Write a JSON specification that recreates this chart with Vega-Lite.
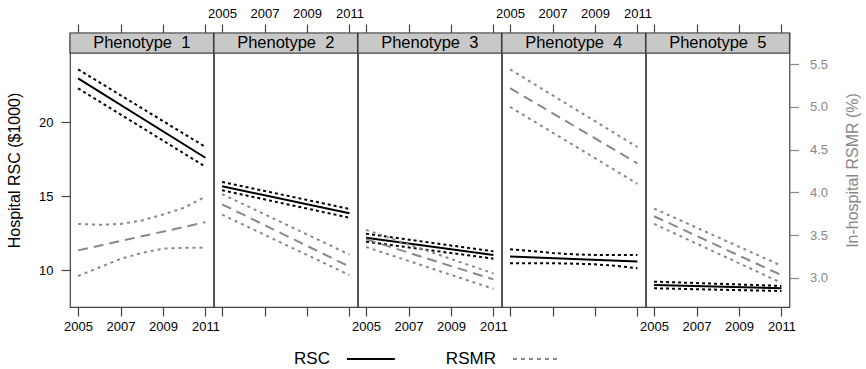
{
  "$schema": "https://vega.github.io/schema/vega-lite/v6.json",
  "padding": {"left": 5, "top": 6, "right": 0, "bottom": 0},
  "datasets": {
    "panels": [
      {"panel": 1, "label": "Phenotype\u00a0 1"},
      {"panel": 2, "label": "Phenotype\u00a0 2"},
      {"panel": 3, "label": "Phenotype\u00a0 3"},
      {"panel": 4, "label": "Phenotype\u00a0 4"},
      {"panel": 5, "label": "Phenotype\u00a0 5"}
    ],
    "legend": [{"label": "RSC"}, {"label": "RSMR"}],
    "lines": [
      {"panel": 1, "measure": "RSC", "bound": "estimate", "year": 2005, "value": 22.94},
      {"panel": 1, "measure": "RSC", "bound": "estimate", "year": 2011, "value": 17.59},
      {"panel": 1, "measure": "RSC", "bound": "upper", "year": 2005, "value": 23.55},
      {"panel": 1, "measure": "RSC", "bound": "upper", "year": 2011, "value": 18.32},
      {"panel": 1, "measure": "RSC", "bound": "lower", "year": 2005, "value": 22.27},
      {"panel": 1, "measure": "RSC", "bound": "lower", "year": 2011, "value": 16.99},
      {"panel": 1, "measure": "RSMR", "bound": "estimate", "year": 2005, "value": 3.32},
      {"panel": 1, "measure": "RSMR", "bound": "estimate", "year": 2011, "value": 3.65},
      {"panel": 1, "measure": "RSMR", "bound": "upper", "year": 2005, "value": 3.63},
      {"panel": 1, "measure": "RSMR", "bound": "upper", "year": 2006, "value": 3.62},
      {"panel": 1, "measure": "RSMR", "bound": "upper", "year": 2007, "value": 3.63},
      {"panel": 1, "measure": "RSMR", "bound": "upper", "year": 2008, "value": 3.67},
      {"panel": 1, "measure": "RSMR", "bound": "upper", "year": 2009, "value": 3.74},
      {"panel": 1, "measure": "RSMR", "bound": "upper", "year": 2010, "value": 3.82},
      {"panel": 1, "measure": "RSMR", "bound": "upper", "year": 2011, "value": 3.95},
      {"panel": 1, "measure": "RSMR", "bound": "lower", "year": 2005, "value": 3.02},
      {"panel": 1, "measure": "RSMR", "bound": "lower", "year": 2006, "value": 3.12},
      {"panel": 1, "measure": "RSMR", "bound": "lower", "year": 2007, "value": 3.22},
      {"panel": 1, "measure": "RSMR", "bound": "lower", "year": 2008, "value": 3.29},
      {"panel": 1, "measure": "RSMR", "bound": "lower", "year": 2009, "value": 3.34},
      {"panel": 1, "measure": "RSMR", "bound": "lower", "year": 2010, "value": 3.35},
      {"panel": 1, "measure": "RSMR", "bound": "lower", "year": 2011, "value": 3.35},
      {"panel": 2, "measure": "RSC", "bound": "estimate", "year": 2005, "value": 15.67},
      {"panel": 2, "measure": "RSC", "bound": "estimate", "year": 2011, "value": 13.85},
      {"panel": 2, "measure": "RSC", "bound": "upper", "year": 2005, "value": 15.96},
      {"panel": 2, "measure": "RSC", "bound": "upper", "year": 2011, "value": 14.14},
      {"panel": 2, "measure": "RSC", "bound": "lower", "year": 2005, "value": 15.40},
      {"panel": 2, "measure": "RSC", "bound": "lower", "year": 2011, "value": 13.55},
      {"panel": 2, "measure": "RSMR", "bound": "estimate", "year": 2005, "value": 3.86},
      {"panel": 2, "measure": "RSMR", "bound": "estimate", "year": 2011, "value": 3.13},
      {"panel": 2, "measure": "RSMR", "bound": "upper", "year": 2005, "value": 3.98},
      {"panel": 2, "measure": "RSMR", "bound": "upper", "year": 2011, "value": 3.27},
      {"panel": 2, "measure": "RSMR", "bound": "lower", "year": 2005, "value": 3.74},
      {"panel": 2, "measure": "RSMR", "bound": "lower", "year": 2011, "value": 3.03},
      {"panel": 3, "measure": "RSC", "bound": "estimate", "year": 2005, "value": 12.20},
      {"panel": 3, "measure": "RSC", "bound": "estimate", "year": 2011, "value": 11.04},
      {"panel": 3, "measure": "RSC", "bound": "upper", "year": 2005, "value": 12.47},
      {"panel": 3, "measure": "RSC", "bound": "upper", "year": 2011, "value": 11.28},
      {"panel": 3, "measure": "RSC", "bound": "lower", "year": 2005, "value": 11.93},
      {"panel": 3, "measure": "RSC", "bound": "lower", "year": 2011, "value": 10.79},
      {"panel": 3, "measure": "RSMR", "bound": "estimate", "year": 2005, "value": 3.45},
      {"panel": 3, "measure": "RSMR", "bound": "estimate", "year": 2011, "value": 2.98},
      {"panel": 3, "measure": "RSMR", "bound": "upper", "year": 2005, "value": 3.56},
      {"panel": 3, "measure": "RSMR", "bound": "upper", "year": 2011, "value": 3.05},
      {"panel": 3, "measure": "RSMR", "bound": "lower", "year": 2005, "value": 3.36},
      {"panel": 3, "measure": "RSMR", "bound": "lower", "year": 2011, "value": 2.87},
      {"panel": 4, "measure": "RSC", "bound": "estimate", "year": 2005, "value": 10.93},
      {"panel": 4, "measure": "RSC", "bound": "estimate", "year": 2011, "value": 10.59},
      {"panel": 4, "measure": "RSC", "bound": "upper", "year": 2005, "value": 11.42},
      {"panel": 4, "measure": "RSC", "bound": "upper", "year": 2006, "value": 11.31},
      {"panel": 4, "measure": "RSC", "bound": "upper", "year": 2007, "value": 11.17},
      {"panel": 4, "measure": "RSC", "bound": "upper", "year": 2008, "value": 11.08},
      {"panel": 4, "measure": "RSC", "bound": "upper", "year": 2009, "value": 11.04},
      {"panel": 4, "measure": "RSC", "bound": "upper", "year": 2010, "value": 11.04},
      {"panel": 4, "measure": "RSC", "bound": "upper", "year": 2011, "value": 11.04},
      {"panel": 4, "measure": "RSC", "bound": "lower", "year": 2005, "value": 10.48},
      {"panel": 4, "measure": "RSC", "bound": "lower", "year": 2006, "value": 10.48},
      {"panel": 4, "measure": "RSC", "bound": "lower", "year": 2007, "value": 10.48},
      {"panel": 4, "measure": "RSC", "bound": "lower", "year": 2008, "value": 10.45},
      {"panel": 4, "measure": "RSC", "bound": "lower", "year": 2009, "value": 10.41},
      {"panel": 4, "measure": "RSC", "bound": "lower", "year": 2010, "value": 10.30},
      {"panel": 4, "measure": "RSC", "bound": "lower", "year": 2011, "value": 10.14},
      {"panel": 4, "measure": "RSMR", "bound": "estimate", "year": 2005, "value": 5.22},
      {"panel": 4, "measure": "RSMR", "bound": "estimate", "year": 2011, "value": 4.34},
      {"panel": 4, "measure": "RSMR", "bound": "upper", "year": 2005, "value": 5.44},
      {"panel": 4, "measure": "RSMR", "bound": "upper", "year": 2011, "value": 4.53},
      {"panel": 4, "measure": "RSMR", "bound": "lower", "year": 2005, "value": 5.00},
      {"panel": 4, "measure": "RSMR", "bound": "lower", "year": 2011, "value": 4.10},
      {"panel": 5, "measure": "RSC", "bound": "estimate", "year": 2005, "value": 9.02},
      {"panel": 5, "measure": "RSC", "bound": "estimate", "year": 2011, "value": 8.79},
      {"panel": 5, "measure": "RSC", "bound": "upper", "year": 2005, "value": 9.24},
      {"panel": 5, "measure": "RSC", "bound": "upper", "year": 2011, "value": 8.95},
      {"panel": 5, "measure": "RSC", "bound": "lower", "year": 2005, "value": 8.79},
      {"panel": 5, "measure": "RSC", "bound": "lower", "year": 2011, "value": 8.61},
      {"panel": 5, "measure": "RSMR", "bound": "estimate", "year": 2005, "value": 3.72},
      {"panel": 5, "measure": "RSMR", "bound": "estimate", "year": 2011, "value": 3.03},
      {"panel": 5, "measure": "RSMR", "bound": "upper", "year": 2005, "value": 3.81},
      {"panel": 5, "measure": "RSMR", "bound": "upper", "year": 2011, "value": 3.14},
      {"panel": 5, "measure": "RSMR", "bound": "lower", "year": 2005, "value": 3.63},
      {"panel": 5, "measure": "RSMR", "bound": "lower", "year": 2011, "value": 2.94}
    ]
  },
  "spacing": 15,
  "vconcat": [
    {
      "bounds": "flush",
      "spacing": 0,
      "hconcat": [
        {
          "width": 143.5, "height": 274,
          "layer": [
            {"layer": [
              {"data": {"name": "panels"}, "transform": [{"filter": "datum.panel === 1"}],
               "mark": {"type": "rect", "fill": "#c8c8c8", "stroke": "#444", "strokeWidth": 1.2},
               "encoding": {"y": {"datum": 24.65, "type": "quantitative", "scale": {"domain": [7.53, 26.0], "nice": false, "zero": false}, "axis": {"orient": "left", "values": [10, 15, 20], "title": "Hospital RSC ($1000)", "labelPadding": 8, "titlePadding": 16}}, "y2": {"datum": 26.0}}},
              {"data": {"name": "panels"}, "transform": [{"filter": "datum.panel === 1"}],
               "mark": {"type": "text", "fontSize": 16.5, "baseline": "middle", "color": "#000"},
               "encoding": {"text": {"field": "label"}, "y": {"datum": 25.33, "type": "quantitative", "axis": {"orient": "left", "values": [10, 15, 20], "title": "Hospital RSC ($1000)", "labelPadding": 8, "titlePadding": 16}}}},
              {"data": {"name": "lines"}, "transform": [{"filter": "datum.panel === 1 && datum.measure === 'RSC' && datum.bound === 'estimate'"}],
               "mark": {"type": "line", "color": "#000", "strokeWidth": 2},
               "encoding": {"x": {"field": "year", "type": "quantitative", "scale": {"domain": [2004.62, 2011.38], "nice": false, "zero": false}, "axis": {"orient": "bottom", "values": [2005, 2006, 2007, 2008, 2009, 2010, 2011], "format": "d", "labelExpr": "datum.value % 2 === 1 ? datum.label : ''", "title": null, "labelPadding": 4}},
                            "y": {"field": "value", "type": "quantitative", "axis": {"orient": "left", "values": [10, 15, 20], "title": "Hospital RSC ($1000)", "labelPadding": 8, "titlePadding": 16}}}},
              {"data": {"name": "lines"}, "transform": [{"filter": "datum.panel === 1 && datum.measure === 'RSC' && datum.bound !== 'estimate'"}],
               "mark": {"type": "line", "color": "#000", "strokeWidth": 2, "strokeDash": [3, 3]},
               "encoding": {"x": {"field": "year", "type": "quantitative"}, "y": {"field": "value", "type": "quantitative", "axis": {"orient": "left", "values": [10, 15, 20], "title": "Hospital RSC ($1000)", "labelPadding": 8, "titlePadding": 16}}, "detail": {"field": "bound"}}}
            ]},
            {"layer": [
              {"data": {"name": "lines"}, "transform": [{"filter": "datum.panel === 1 && datum.measure === 'RSMR' && datum.bound === 'estimate'"}],
               "mark": {"type": "line", "color": "#888", "strokeWidth": 2, "strokeDash": [10, 6]},
               "encoding": {"x": {"field": "year", "type": "quantitative", "axis": {"orient": "top", "values": [2005, 2006, 2007, 2008, 2009, 2010, 2011], "labels": false, "title": null}},
                            "y": {"field": "value", "type": "quantitative", "scale": {"domain": [2.657, 5.866], "nice": false, "zero": false}, "axis": null}}},
              {"data": {"name": "lines"}, "transform": [{"filter": "datum.panel === 1 && datum.measure === 'RSMR' && datum.bound !== 'estimate'"}],
               "mark": {"type": "line", "color": "#888", "strokeWidth": 2, "strokeDash": [3, 4]},
               "encoding": {"x": {"field": "year", "type": "quantitative"}, "y": {"field": "value", "type": "quantitative", "axis": null}, "detail": {"field": "bound"}}}
            ]}
          ],
          "resolve": {"scale": {"y": "independent"}, "axis": {"x": "independent", "y": "independent"}}
        },
        {
          "width": 143.5, "height": 274,
          "layer": [
            {"layer": [
              {"data": {"name": "panels"}, "transform": [{"filter": "datum.panel === 2"}],
               "mark": {"type": "rect", "fill": "#c8c8c8", "stroke": "#444", "strokeWidth": 1.2},
               "encoding": {"y": {"datum": 24.65, "type": "quantitative", "scale": {"domain": [7.53, 26.0], "nice": false, "zero": false}, "axis": null}, "y2": {"datum": 26.0}}},
              {"data": {"name": "panels"}, "transform": [{"filter": "datum.panel === 2"}],
               "mark": {"type": "text", "fontSize": 16.5, "baseline": "middle", "color": "#000"},
               "encoding": {"text": {"field": "label"}, "y": {"datum": 25.33, "type": "quantitative", "axis": null}}},
              {"data": {"name": "lines"}, "transform": [{"filter": "datum.panel === 2 && datum.measure === 'RSC' && datum.bound === 'estimate'"}],
               "mark": {"type": "line", "color": "#000", "strokeWidth": 2},
               "encoding": {"x": {"field": "year", "type": "quantitative", "scale": {"domain": [2004.62, 2011.38], "nice": false, "zero": false}, "axis": {"orient": "bottom", "values": [2005, 2006, 2007, 2008, 2009, 2010, 2011], "labels": false, "title": null}},
                            "y": {"field": "value", "type": "quantitative", "axis": null}}},
              {"data": {"name": "lines"}, "transform": [{"filter": "datum.panel === 2 && datum.measure === 'RSC' && datum.bound !== 'estimate'"}],
               "mark": {"type": "line", "color": "#000", "strokeWidth": 2, "strokeDash": [3, 3]},
               "encoding": {"x": {"field": "year", "type": "quantitative"}, "y": {"field": "value", "type": "quantitative", "axis": null}, "detail": {"field": "bound"}}}
            ]},
            {"layer": [
              {"data": {"name": "lines"}, "transform": [{"filter": "datum.panel === 2 && datum.measure === 'RSMR' && datum.bound === 'estimate'"}],
               "mark": {"type": "line", "color": "#888", "strokeWidth": 2, "strokeDash": [10, 6]},
               "encoding": {"x": {"field": "year", "type": "quantitative", "axis": {"orient": "top", "values": [2005, 2006, 2007, 2008, 2009, 2010, 2011], "format": "d", "labelExpr": "datum.value % 2 === 1 ? datum.label : ''", "title": null, "labelPadding": 4}},
                            "y": {"field": "value", "type": "quantitative", "scale": {"domain": [2.657, 5.866], "nice": false, "zero": false}, "axis": null}}},
              {"data": {"name": "lines"}, "transform": [{"filter": "datum.panel === 2 && datum.measure === 'RSMR' && datum.bound !== 'estimate'"}],
               "mark": {"type": "line", "color": "#888", "strokeWidth": 2, "strokeDash": [3, 4]},
               "encoding": {"x": {"field": "year", "type": "quantitative"}, "y": {"field": "value", "type": "quantitative", "axis": null}, "detail": {"field": "bound"}}}
            ]}
          ],
          "resolve": {"scale": {"y": "independent"}, "axis": {"x": "independent", "y": "independent"}}
        },
        {
          "width": 143.5, "height": 274,
          "layer": [
            {"layer": [
              {"data": {"name": "panels"}, "transform": [{"filter": "datum.panel === 3"}],
               "mark": {"type": "rect", "fill": "#c8c8c8", "stroke": "#444", "strokeWidth": 1.2},
               "encoding": {"y": {"datum": 24.65, "type": "quantitative", "scale": {"domain": [7.53, 26.0], "nice": false, "zero": false}, "axis": null}, "y2": {"datum": 26.0}}},
              {"data": {"name": "panels"}, "transform": [{"filter": "datum.panel === 3"}],
               "mark": {"type": "text", "fontSize": 16.5, "baseline": "middle", "color": "#000"},
               "encoding": {"text": {"field": "label"}, "y": {"datum": 25.33, "type": "quantitative", "axis": null}}},
              {"data": {"name": "lines"}, "transform": [{"filter": "datum.panel === 3 && datum.measure === 'RSC' && datum.bound === 'estimate'"}],
               "mark": {"type": "line", "color": "#000", "strokeWidth": 2},
               "encoding": {"x": {"field": "year", "type": "quantitative", "scale": {"domain": [2004.62, 2011.38], "nice": false, "zero": false}, "axis": {"orient": "bottom", "values": [2005, 2006, 2007, 2008, 2009, 2010, 2011], "format": "d", "labelExpr": "datum.value % 2 === 1 ? datum.label : ''", "title": null, "labelPadding": 4}},
                            "y": {"field": "value", "type": "quantitative", "axis": null}}},
              {"data": {"name": "lines"}, "transform": [{"filter": "datum.panel === 3 && datum.measure === 'RSC' && datum.bound !== 'estimate'"}],
               "mark": {"type": "line", "color": "#000", "strokeWidth": 2, "strokeDash": [3, 3]},
               "encoding": {"x": {"field": "year", "type": "quantitative"}, "y": {"field": "value", "type": "quantitative", "axis": null}, "detail": {"field": "bound"}}}
            ]},
            {"layer": [
              {"data": {"name": "lines"}, "transform": [{"filter": "datum.panel === 3 && datum.measure === 'RSMR' && datum.bound === 'estimate'"}],
               "mark": {"type": "line", "color": "#888", "strokeWidth": 2, "strokeDash": [10, 6]},
               "encoding": {"x": {"field": "year", "type": "quantitative", "axis": {"orient": "top", "values": [2005, 2006, 2007, 2008, 2009, 2010, 2011], "labels": false, "title": null}},
                            "y": {"field": "value", "type": "quantitative", "scale": {"domain": [2.657, 5.866], "nice": false, "zero": false}, "axis": null}}},
              {"data": {"name": "lines"}, "transform": [{"filter": "datum.panel === 3 && datum.measure === 'RSMR' && datum.bound !== 'estimate'"}],
               "mark": {"type": "line", "color": "#888", "strokeWidth": 2, "strokeDash": [3, 4]},
               "encoding": {"x": {"field": "year", "type": "quantitative"}, "y": {"field": "value", "type": "quantitative", "axis": null}, "detail": {"field": "bound"}}}
            ]}
          ],
          "resolve": {"scale": {"y": "independent"}, "axis": {"x": "independent", "y": "independent"}}
        },
        {
          "width": 143.5, "height": 274,
          "layer": [
            {"layer": [
              {"data": {"name": "panels"}, "transform": [{"filter": "datum.panel === 4"}],
               "mark": {"type": "rect", "fill": "#c8c8c8", "stroke": "#444", "strokeWidth": 1.2},
               "encoding": {"y": {"datum": 24.65, "type": "quantitative", "scale": {"domain": [7.53, 26.0], "nice": false, "zero": false}, "axis": null}, "y2": {"datum": 26.0}}},
              {"data": {"name": "panels"}, "transform": [{"filter": "datum.panel === 4"}],
               "mark": {"type": "text", "fontSize": 16.5, "baseline": "middle", "color": "#000"},
               "encoding": {"text": {"field": "label"}, "y": {"datum": 25.33, "type": "quantitative", "axis": null}}},
              {"data": {"name": "lines"}, "transform": [{"filter": "datum.panel === 4 && datum.measure === 'RSC' && datum.bound === 'estimate'"}],
               "mark": {"type": "line", "color": "#000", "strokeWidth": 2},
               "encoding": {"x": {"field": "year", "type": "quantitative", "scale": {"domain": [2004.62, 2011.38], "nice": false, "zero": false}, "axis": {"orient": "bottom", "values": [2005, 2006, 2007, 2008, 2009, 2010, 2011], "labels": false, "title": null}},
                            "y": {"field": "value", "type": "quantitative", "axis": null}}},
              {"data": {"name": "lines"}, "transform": [{"filter": "datum.panel === 4 && datum.measure === 'RSC' && datum.bound !== 'estimate'"}],
               "mark": {"type": "line", "color": "#000", "strokeWidth": 2, "strokeDash": [3, 3]},
               "encoding": {"x": {"field": "year", "type": "quantitative"}, "y": {"field": "value", "type": "quantitative", "axis": null}, "detail": {"field": "bound"}}}
            ]},
            {"layer": [
              {"data": {"name": "lines"}, "transform": [{"filter": "datum.panel === 4 && datum.measure === 'RSMR' && datum.bound === 'estimate'"}],
               "mark": {"type": "line", "color": "#888", "strokeWidth": 2, "strokeDash": [10, 6]},
               "encoding": {"x": {"field": "year", "type": "quantitative", "axis": {"orient": "top", "values": [2005, 2006, 2007, 2008, 2009, 2010, 2011], "format": "d", "labelExpr": "datum.value % 2 === 1 ? datum.label : ''", "title": null, "labelPadding": 4}},
                            "y": {"field": "value", "type": "quantitative", "scale": {"domain": [2.657, 5.866], "nice": false, "zero": false}, "axis": null}}},
              {"data": {"name": "lines"}, "transform": [{"filter": "datum.panel === 4 && datum.measure === 'RSMR' && datum.bound !== 'estimate'"}],
               "mark": {"type": "line", "color": "#888", "strokeWidth": 2, "strokeDash": [3, 4]},
               "encoding": {"x": {"field": "year", "type": "quantitative"}, "y": {"field": "value", "type": "quantitative", "axis": null}, "detail": {"field": "bound"}}}
            ]}
          ],
          "resolve": {"scale": {"y": "independent"}, "axis": {"x": "independent", "y": "independent"}}
        },
        {
          "width": 143.5, "height": 274,
          "layer": [
            {"layer": [
              {"data": {"name": "panels"}, "transform": [{"filter": "datum.panel === 5"}],
               "mark": {"type": "rect", "fill": "#c8c8c8", "stroke": "#444", "strokeWidth": 1.2},
               "encoding": {"y": {"datum": 24.65, "type": "quantitative", "scale": {"domain": [7.53, 26.0], "nice": false, "zero": false}, "axis": null}, "y2": {"datum": 26.0}}},
              {"data": {"name": "panels"}, "transform": [{"filter": "datum.panel === 5"}],
               "mark": {"type": "text", "fontSize": 16.5, "baseline": "middle", "color": "#000"},
               "encoding": {"text": {"field": "label"}, "y": {"datum": 25.33, "type": "quantitative", "axis": null}}},
              {"data": {"name": "lines"}, "transform": [{"filter": "datum.panel === 5 && datum.measure === 'RSC' && datum.bound === 'estimate'"}],
               "mark": {"type": "line", "color": "#000", "strokeWidth": 2},
               "encoding": {"x": {"field": "year", "type": "quantitative", "scale": {"domain": [2004.62, 2011.38], "nice": false, "zero": false}, "axis": {"orient": "bottom", "values": [2005, 2006, 2007, 2008, 2009, 2010, 2011], "format": "d", "labelExpr": "datum.value % 2 === 1 ? datum.label : ''", "title": null, "labelPadding": 4}},
                            "y": {"field": "value", "type": "quantitative", "axis": null}}},
              {"data": {"name": "lines"}, "transform": [{"filter": "datum.panel === 5 && datum.measure === 'RSC' && datum.bound !== 'estimate'"}],
               "mark": {"type": "line", "color": "#000", "strokeWidth": 2, "strokeDash": [3, 3]},
               "encoding": {"x": {"field": "year", "type": "quantitative"}, "y": {"field": "value", "type": "quantitative", "axis": null}, "detail": {"field": "bound"}}}
            ]},
            {"layer": [
              {"data": {"name": "lines"}, "transform": [{"filter": "datum.panel === 5 && datum.measure === 'RSMR' && datum.bound === 'estimate'"}],
               "mark": {"type": "line", "color": "#888", "strokeWidth": 2, "strokeDash": [10, 6]},
               "encoding": {"x": {"field": "year", "type": "quantitative", "axis": {"orient": "top", "values": [2005, 2006, 2007, 2008, 2009, 2010, 2011], "labels": false, "title": null}},
                            "y": {"field": "value", "type": "quantitative", "scale": {"domain": [2.657, 5.866], "nice": false, "zero": false},
                                  "axis": {"orient": "right", "values": [3, 3.5, 4, 4.5, 5, 5.5], "format": ".1f", "title": "In-hospital RSMR (%)", "titleAngle": 270, "labelColor": "#888", "titleColor": "#888", "tickColor": "#888", "titlePadding": 33}}}},
              {"data": {"name": "lines"}, "transform": [{"filter": "datum.panel === 5 && datum.measure === 'RSMR' && datum.bound !== 'estimate'"}],
               "mark": {"type": "line", "color": "#888", "strokeWidth": 2, "strokeDash": [3, 4]},
               "encoding": {"x": {"field": "year", "type": "quantitative"}, "y": {"field": "value", "type": "quantitative",
                                  "axis": {"orient": "right", "values": [3, 3.5, 4, 4.5, 5, 5.5], "format": ".1f", "title": "In-hospital RSMR (%)", "titleAngle": 270, "labelColor": "#888", "titleColor": "#888", "tickColor": "#888", "titlePadding": 33}}, "detail": {"field": "bound"}}}
            ]}
          ],
          "resolve": {"scale": {"y": "independent"}, "axis": {"x": "independent", "y": "independent"}}
        }
      ]
    },
    {
      "width": 498, "height": 20,
      "view": {"stroke": null},
      "data": {"name": "legend"},
      "encoding": {"x": {"field": "label", "type": "nominal", "sort": null, "scale": {"type": "point", "domain": ["RSC", "RSMR"], "padding": 1, "align": 0.81}, "axis": null}},
      "layer": [
        {"mark": {"type": "text", "align": "right", "baseline": "middle", "dx": -9, "fontSize": 17, "color": "#000"},
         "encoding": {"text": {"field": "label"}}},
        {"mark": {"type": "point", "shape": "stroke", "size": 2300, "filled": false, "opacity": 1, "xOffset": 32, "strokeWidth": 2},
         "encoding": {
           "color": {"field": "label", "type": "nominal", "scale": {"domain": ["RSC", "RSMR"], "range": ["#000000", "#888888"]}, "legend": null},
           "strokeDash": {"field": "label", "type": "nominal", "scale": {"domain": ["RSC", "RSMR"], "range": [[1, 0], [4, 4]]}, "legend": null}}}
      ]
    }
  ],
  "config": {
    "font": "Liberation Sans",
    "view": {"stroke": "#444", "strokeWidth": 1.2},
    "axis": {"domain": false, "grid": false, "tickSize": 9, "tickColor": "#444", "tickWidth": 1.2,
             "labelFont": "Liberation Sans", "labelFontSize": 13, "labelColor": "#000",
             "titleFont": "Liberation Sans", "titleFontSize": 16, "titleFontWeight": "normal", "titleColor": "#000",
             "labelFlush": false, "labelOverlap": false, "labelBound": false},
    "axisRight": {"labelPadding": 11}
  }
}
